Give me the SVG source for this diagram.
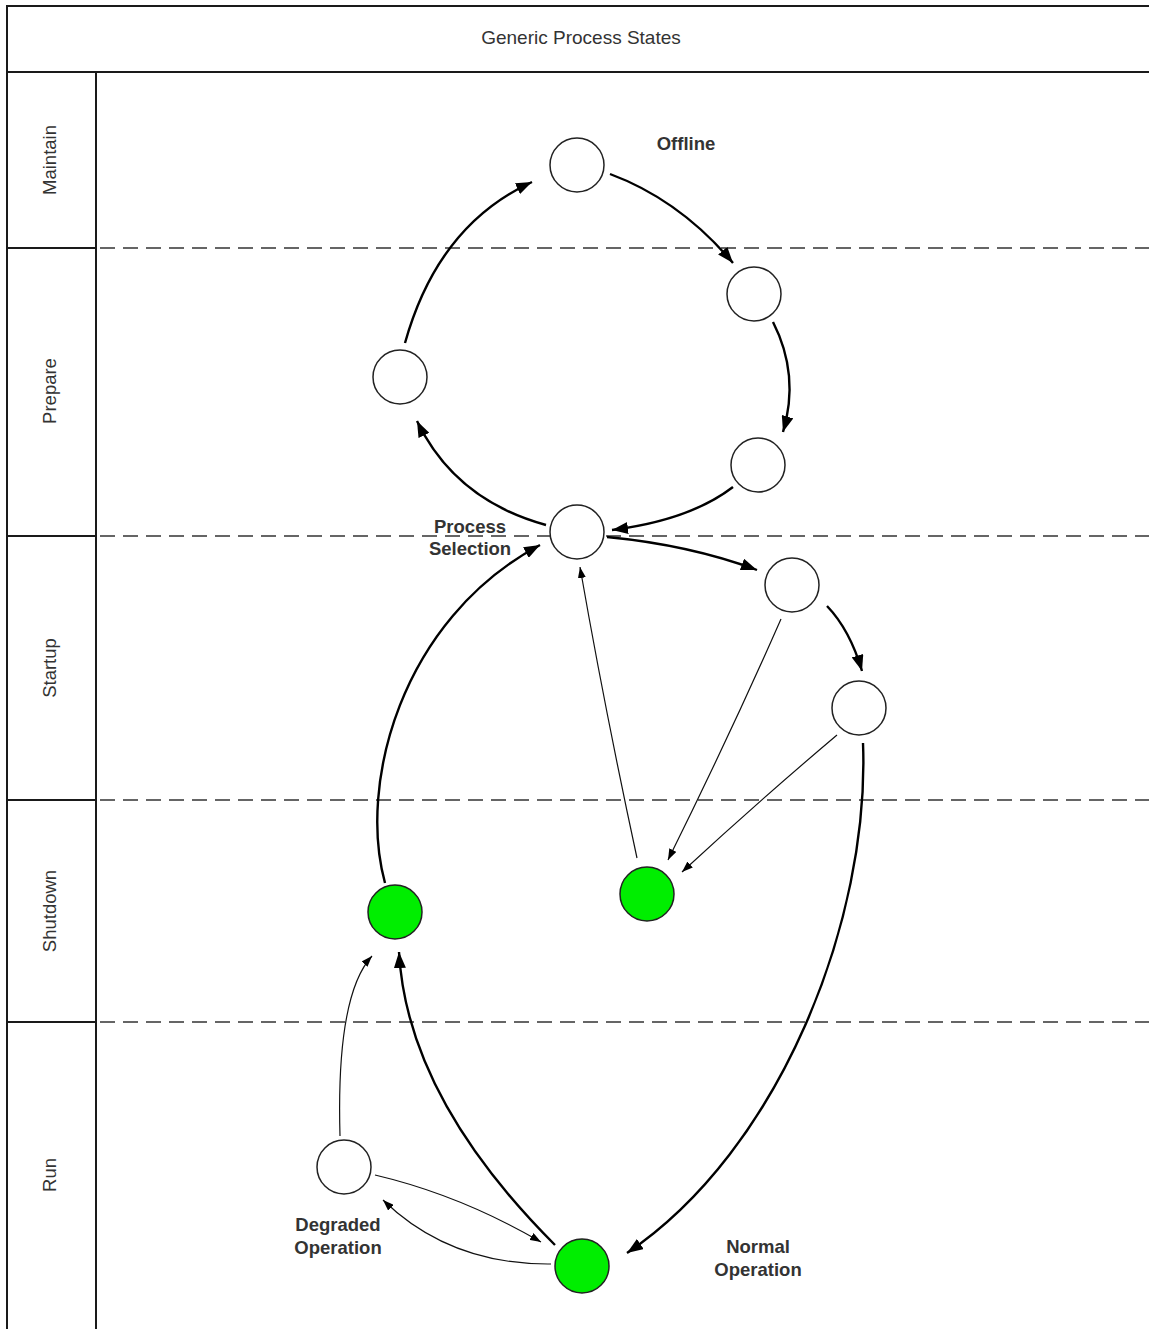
<svg xmlns="http://www.w3.org/2000/svg" width="1149" height="1329" viewBox="0 0 1149 1329">
<style>
.frame{stroke:#1a1a1a;stroke-width:2;fill:none}
.dash{stroke:#333;stroke-width:1.6;stroke-dasharray:15,8;fill:none}
.lane{font-family:"Liberation Sans",Arial,sans-serif;font-size:18.5px;fill:#333;text-anchor:middle}
.title{font-family:"Liberation Sans",Arial,sans-serif;font-size:19px;fill:#333;text-anchor:middle}
.lbl{font-family:"Liberation Sans",Arial,sans-serif;font-size:18.5px;font-weight:bold;fill:#333;text-anchor:middle}
.node{fill:#fff;stroke:#222;stroke-width:1.5}
.green{fill:#00ee00;stroke:#222;stroke-width:1.5}
.thick{fill:none;stroke:#000;stroke-width:2.4;marker-end:url(#ah)}
.thin{fill:none;stroke:#111;stroke-width:1.2;marker-end:url(#as)}
</style>
<defs>
<marker id="ah" markerUnits="userSpaceOnUse" markerWidth="16" markerHeight="12" refX="16" refY="6" orient="auto">
<path d="M0,0 L16,6 L0,12 z" fill="#000"/>
</marker>
<marker id="as" markerUnits="userSpaceOnUse" markerWidth="11" markerHeight="8" refX="11" refY="4" orient="auto">
<path d="M0,0 L11,4 L0,8 z" fill="#000"/>
</marker>
</defs>
<rect width="1149" height="1329" fill="#fff"/>
<g id="frame">
<line class="frame" x1="7" y1="6" x2="1149" y2="6"/>
<line class="frame" x1="7" y1="5" x2="7" y2="1329"/>
<line class="frame" x1="7" y1="72" x2="1149" y2="72"/>
<line class="frame" x1="96" y1="72" x2="96" y2="1329" stroke-width="1.5"/>
<line class="frame" x1="7" y1="248" x2="96" y2="248" stroke-width="1.5"/>
<line class="frame" x1="7" y1="536" x2="96" y2="536" stroke-width="1.5"/>
<line class="frame" x1="7" y1="800" x2="96" y2="800" stroke-width="1.5"/>
<line class="frame" x1="7" y1="1022" x2="96" y2="1022" stroke-width="1.5"/>
<line class="dash" x1="100" y1="248" x2="1149" y2="248"/>
<line class="dash" x1="100" y1="536" x2="1149" y2="536"/>
<line class="dash" x1="100" y1="800" x2="1149" y2="800"/>
<line class="dash" x1="100" y1="1022" x2="1149" y2="1022"/>
<text class="title" x="581" y="44">Generic Process States</text>
<text class="lane" transform="translate(56,160) rotate(-90)">Maintain</text>
<text class="lane" transform="translate(56,391) rotate(-90)">Prepare</text>
<text class="lane" transform="translate(56,668) rotate(-90)">Startup</text>
<text class="lane" transform="translate(56,911) rotate(-90)">Shutdown</text>
<text class="lane" transform="translate(56,1175) rotate(-90)">Run</text>
</g>
<g id="connectors">
<path class="thick" d="M405,343 Q438,225 532,182"/>
<path class="thick" d="M610,174 Q680,200 733,263"/>
<path class="thick" d="M773,322 Q800,375 783,432"/>
<path class="thick" d="M733,487 Q690,520 612,530"/>
<path class="thick" d="M546,525 Q455,500 417,421"/>
<path class="thick" d="M607,537 Q690,545 757,570"/>
<path class="thick" d="M827,606 Q850,630 862,671"/>
<path class="thick" d="M863,743 C870,920 780,1150 627,1253"/>
<path class="thick" d="M385,883 C358,785 400,620 540,545"/>
<path class="thin" d="M637,858 Q605,710 580,567"/>
<path class="thin" d="M781,619 Q730,735 668,860"/>
<path class="thin" d="M837,735 Q760,800 682,872"/>
<path class="thin" d="M340,1136 Q336,995 372,956"/>
<path class="thick" d="M555,1245 C470,1160 405,1060 399,952"/>
<path class="thin" d="M375,1175 Q460,1195 541,1242"/>
<path class="thin" d="M551,1264 Q450,1265 383,1200"/>
</g>
<g id="offline"><circle class="node" cx="577" cy="165" r="27"/><text class="lbl" x="686" y="150">Offline</text></g>
<g id="prepare-right-top"><circle class="node" cx="754" cy="294" r="27"/></g>
<g id="prepare-left"><circle class="node" cx="400" cy="377" r="27"/></g>
<g id="prepare-right-bottom"><circle class="node" cx="758" cy="465" r="27"/></g>
<g id="process-selection"><circle class="node" cx="577" cy="532" r="27"/><text class="lbl" x="470" y="533">Process</text><text class="lbl" x="470" y="555">Selection</text></g>
<g id="startup-1"><circle class="node" cx="792" cy="585" r="27"/></g>
<g id="startup-2"><circle class="node" cx="859" cy="708" r="27"/></g>
<g id="shutdown-left"><circle class="green" cx="395" cy="912" r="27"/></g>
<g id="shutdown-right"><circle class="green" cx="647" cy="894" r="27"/></g>
<g id="degraded"><circle class="node" cx="344" cy="1167" r="27"/><text class="lbl" x="338" y="1231">Degraded</text><text class="lbl" x="338" y="1254">Operation</text></g>
<g id="normal"><circle class="green" cx="582" cy="1266" r="27"/><text class="lbl" x="758" y="1253">Normal</text><text class="lbl" x="758" y="1276">Operation</text></g>
</svg>
